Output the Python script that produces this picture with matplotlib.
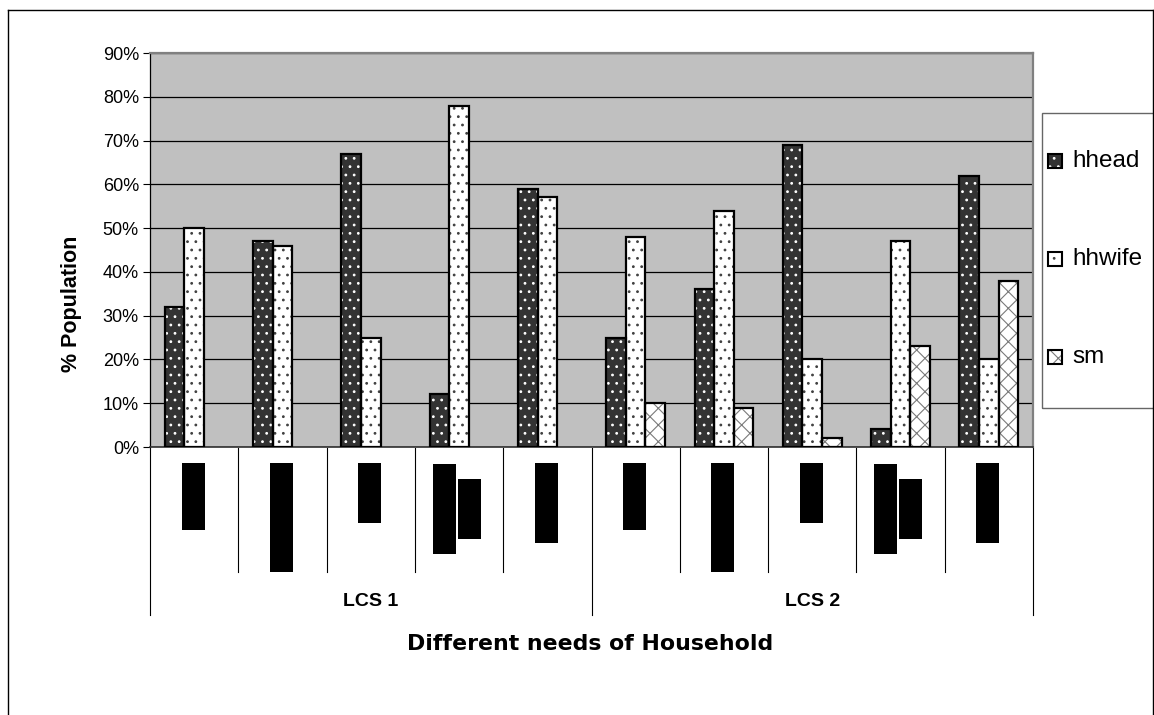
import numpy as np
import matplotlib
matplotlib.use("Agg")
import matplotlib.pyplot as plt
from matplotlib.patches import Rectangle
from matplotlib.lines import Line2D
from matplotlib import transforms

plt.rcParams['font.family'] = ['Liberation Sans', 'DejaVu Sans']
plt.rcParams['hatch.linewidth'] = 0.8

# ---- data -------------------------------------------------------------
groups = ["LCS 1", "LCS 2"]
series = ["hhead", "hhwife", "sm"]
hhead = [32, 47, 67, 12, 59, 25, 36, 69, 4, 62]
hhwife = [50, 46, 25, 78, 57, 48, 54, 20, 47, 20]
sm = [np.nan, np.nan, np.nan, np.nan, np.nan, 10, 9, 2, 23, 38]
y_ticks = [0, 10, 20, 30, 40, 50, 60, 70, 80, 90]
y_tick_labels = ["0%", "10%", "20%", "30%", "40%", "50%", "60%", "70%", "80%", "90%"]

# ---- layout helpers ---------------------------------------------------
W, H = 1154, 715
def fx(px):
    return px / W
def fy(py):
    return 1 - py / H

fig = plt.figure(figsize=(W / 100, H / 100), dpi=100)
fig.patch.set_facecolor('white')

ax = fig.add_axes([fx(150), fy(447), (1033 - 150) / W, (447 - 53) / H])
ax.set_facecolor('#C0C0C0')

n_cat = len(hhead)
per_group = n_cat // len(groups)
x = np.arange(n_cat)
bar_w = 1 / 4.5

styles = {
    "hhead": dict(face="#333333", pattern="white", hatch=".."),
    "hhwife": dict(face="white", pattern="#404040", hatch=".."),
    "sm": dict(face="white", pattern="#7a7a7a", hatch="xx"),
}

for i, (name, vals) in enumerate(zip(series, [hhead, hhwife, sm])):
    v = np.asarray(vals, dtype=float)
    ok = np.isfinite(v)
    xs = x[ok] + (i - 1) * bar_w
    st = styles[name]
    ax.bar(xs, v[ok], bar_w, color=st["face"], edgecolor=st["pattern"],
           hatch=st["hatch"], linewidth=0, zorder=3)
    ax.bar(xs, v[ok], bar_w, fill=False, edgecolor="black",
           linewidth=1.6, zorder=4)

ax.set_xlim(-0.5, n_cat - 0.5)
ax.set_ylim(0, 90)
ax.set_yticks(y_ticks)
ax.set_yticklabels(y_tick_labels, fontsize=13)
ax.set_xticks([])
ax.tick_params(axis='y', length=5, width=0.8, pad=3, direction='out', colors='black')
ax.set_axisbelow(True)
ax.yaxis.grid(True, color='black', linewidth=0.9)

for side in ("top", "right"):
    ax.spines[side].set_color('#808080')
    ax.spines[side].set_linewidth(1.6)
ax.spines['left'].set_color('black')
ax.spines['left'].set_linewidth(0.9)
ax.spines['bottom'].set_color('#303030')
ax.spines['bottom'].set_linewidth(1.2)

# ---- category table below the axis ------------------------------------
trans = transforms.blended_transform_factory(ax.transData, fig.transFigure)
for b in np.arange(-0.5, n_cat):
    group_edge = abs(((b + 0.5) % per_group)) < 1e-9
    y_end = fy(615) if group_edge else fy(572)
    ax.add_line(Line2D([b, b], [fy(448), y_end], transform=trans,
                       color='black', linewidth=0.8, clip_on=False))

# rotated category captions, shown as solid black blocks
px_per_cat = (1033 - 150) / n_cat
block_w = 23 / px_per_cat
caption_blocks = [
    [(-1, 463, 530)],
    [(-1, 463, 572)],
    [(-1, 463, 523)],
    [(-14.7, 464, 554), (10.3, 479, 539)],
    [(-1, 463, 543)],
]
for c in range(n_cat):
    for off, top, bottom in caption_blocks[c % per_group]:
        xc = c + off / px_per_cat
        ax.add_patch(Rectangle((xc - block_w / 2, fy(bottom)), block_w,
                               fy(top) - fy(bottom), transform=trans,
                               facecolor='black', edgecolor='none',
                               clip_on=False))

for g, name in enumerate(groups):
    center = g * per_group + (per_group - 1) / 2
    ax.text(center, fy(606), name, transform=trans, ha='center',
            va='baseline', fontsize=14, fontweight='bold')

# ---- axis titles ------------------------------------------------------
fig.text(fx(590), fy(650), "Different needs of Household", ha='center',
         va='baseline', fontsize=15.8, fontweight='bold',
         family=['DejaVu Sans'])
fig.text(fx(72), fy(304), "% Population", rotation=90, ha='center',
         va='center', fontsize=15.5, fontweight='bold')

# ---- legend -----------------------------------------------------------
fig.add_artist(Rectangle((fx(1042), fy(408)), (1175 - 1042) / W,
                         (408 - 113) / H, transform=fig.transFigure,
                         fill=False, edgecolor='#666666', linewidth=1))
legend_rows = [161, 259, 357]
mk = 14
for name, yc in zip(series, legend_rows):
    st = styles[name]
    fig.add_artist(Rectangle((fx(1048), fy(yc + mk / 2)), mk / W, mk / H,
                             transform=fig.transFigure, facecolor=st["face"],
                             edgecolor=st["pattern"], hatch=st["hatch"],
                             linewidth=0))
    fig.add_artist(Rectangle((fx(1048), fy(yc + mk / 2)), mk / W, mk / H,
                             transform=fig.transFigure, fill=False,
                             edgecolor='black', linewidth=1.5))
    fig.text(fx(1072), fy(yc), name, ha='left', va='center', fontsize=17.5)

# ---- chart border -----------------------------------------------------
for xs_, ys_ in [([8, 8], [10, 715]), ([8, 1153], [10, 10]), ([1153, 1153], [10, 715])]:
    fig.add_artist(Line2D([fx(v) for v in xs_], [fy(v) for v in ys_],
                          transform=fig.transFigure, color='black',
                          linewidth=1))

fig.savefig("out.png", dpi=100)
